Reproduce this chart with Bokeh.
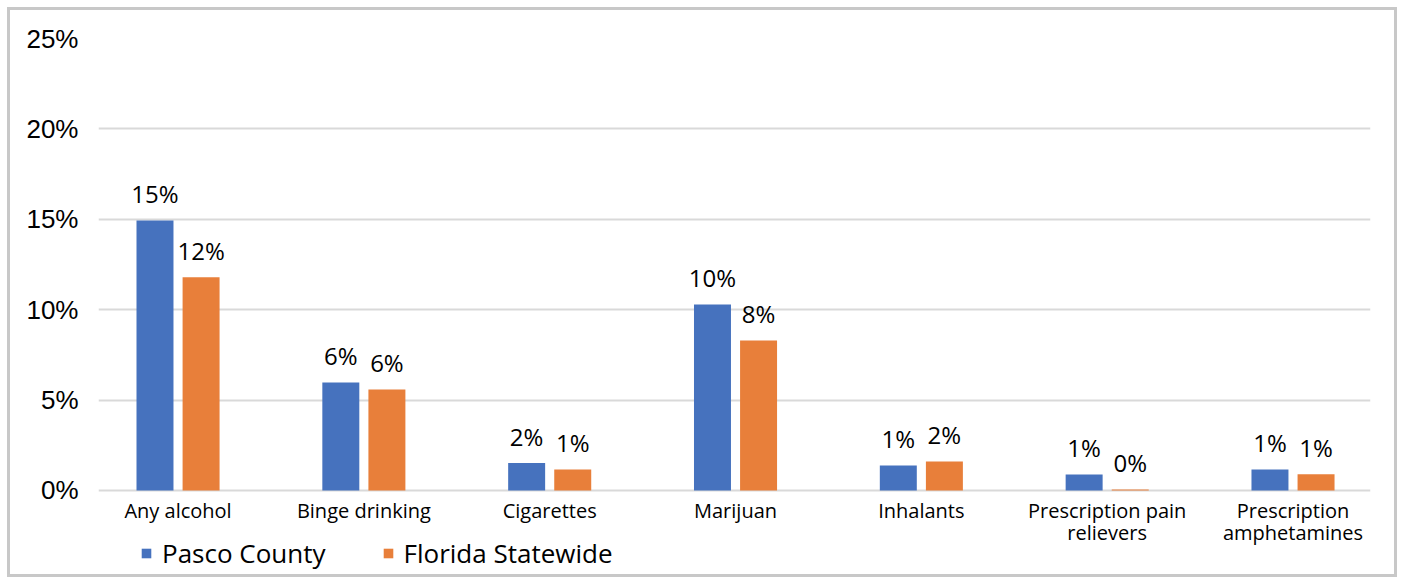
from bokeh.plotting import figure
from bokeh.models import (ColumnDataSource, FixedTicker, PrintfTickFormatter,
                          Legend, LegendItem, Range1d)
from bokeh.embed import file_html
from bokeh.resources import INLINE
from bokeh.core.properties import value

categories = ["Any alcohol", "Binge drinking", "Cigarettes", "Marijuan",
              "Inhalants", "Prescription pain\nrelievers", "Prescription\namphetamines"]
pasco = [14.93, 5.97, 1.52, 10.29, 1.38, 0.88, 1.16]
florida = [11.80, 5.59, 1.16, 8.30, 1.60, 0.06, 0.90]
series_names = ["Pasco County", "Florida Statewide"]
y_ticks = [0, 5, 10, 15, 20, 25]

BLUE = "#4672BE"
ORANGE = "#E87F3A"
FONT = "Open Sans"

xs = list(range(len(categories)))
off = 0.124
bw = 0.199

src_p = ColumnDataSource(dict(x=[i - off for i in xs], top=pasco,
                              lab=[f"{int(v + 0.5)}%" for v in pasco]))
src_f = ColumnDataSource(dict(x=[i + off for i in xs], top=florida,
                              lab=[f"{int(v + 0.5)}%" for v in florida]))
src_c = ColumnDataSource(dict(x=xs, y=[0] * len(xs), name=categories))

p = figure(width=1390, height=570, output_backend="svg", toolbar_location=None,
           x_range=Range1d(-0.428, 6.417), y_range=Range1d(-4.978, 25),
           min_border_left=88, min_border_right=30, min_border_top=28,
           min_border_bottom=0)
p.margin = (7, 0, 0, 7)
p.styles = {"border": "3px solid #C8C8C8"}
p.outline_line_color = None
p.background_fill_color = "white"
p.border_fill_color = "white"

rb = p.vbar(x="x", top="top", width=bw, source=src_p, fill_color=BLUE, line_color=None)
ro = p.vbar(x="x", top="top", width=bw, source=src_f, fill_color=ORANGE, line_color=None)

for src in (src_p, src_f):
    p.text(x="x", y="top", text="lab", source=src, text_align="center",
           text_baseline="alphabetic", y_offset=-27, text_font=value(FONT),
           text_font_size="24px", text_color="#000000")

# category labels under the 0 line
p.text(x="x", y="y", text="name", source=src_c, text_align="center",
       text_baseline="top", y_offset=7, text_font=value(FONT),
       text_font_size="20px", text_color="#000000", text_line_height=0.78)

p.xaxis.visible = False
p.xgrid.grid_line_color = None
p.ygrid.grid_line_color = "#D9D9D9"
p.ygrid.grid_line_width = 2
p.yaxis.ticker = FixedTicker(ticks=y_ticks)
p.yaxis.formatter = PrintfTickFormatter(format="%d%%")
p.yaxis.axis_line_color = None
p.yaxis.major_tick_line_color = None
p.yaxis.minor_tick_line_color = None
p.yaxis.major_label_text_font = "Liberation Sans"
p.yaxis.major_label_text_font_size = "26px"
p.yaxis.major_label_text_color = "#000000"
p.yaxis.major_label_standoff = 14

legend = Legend(items=[LegendItem(label=series_names[0], renderers=[rb]),
                       LegendItem(label=series_names[1], renderers=[ro])],
                orientation="horizontal", location=(42, 9),
                label_text_font=FONT, label_text_font_size="26px",
                label_text_color="#000000", glyph_width=12, glyph_height=12,
                label_height=24, label_standoff=10, spacing=56, padding=0, margin=0,
                border_line_color=None, background_fill_alpha=0)
p.add_layout(legend)

open("out.html", "w").write(file_html(p, INLINE))
